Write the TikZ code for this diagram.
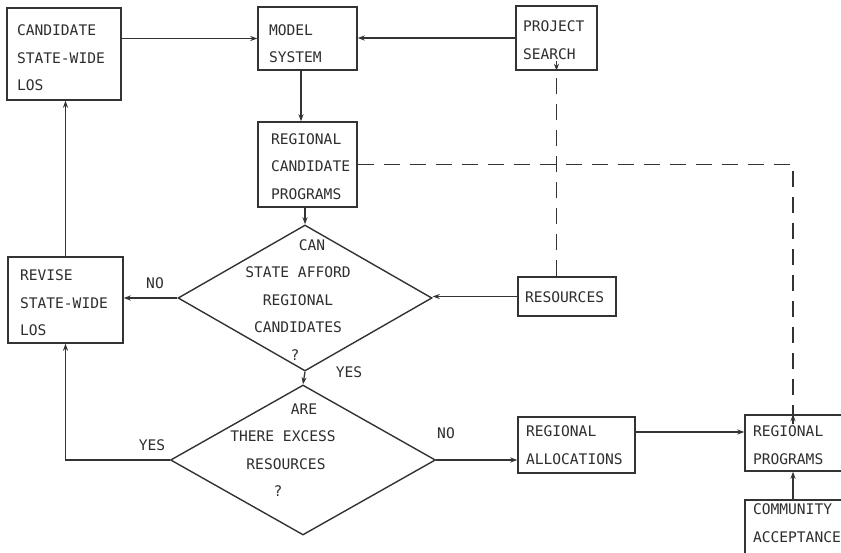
\documentclass[tikz,border=0pt]{standalone}
\usepackage{fontspec}
\setmonofont{DejaVu Sans Mono}
\usetikzlibrary{shapes.geometric,arrows.meta,calc}
\newcommand{\dn}[1]{\rule{0pt}{#1}}
\newcommand{\upx}[1]{\rule[-#1]{0pt}{1pt}}
\begin{document}
\begin{tikzpicture}[x=1pt,y=-1pt,
  every node/.style={font=\ttfamily\fontsize{14.6}{27.5}\selectfont, text=black!82},
  box/.style={draw=black!80, line width=1.4pt, rectangle, inner ysep=0pt, align=left},
  dia/.style={draw=black!80, line width=1.4pt, diamond, inner sep=0pt},
  lbl/.style={inner sep=0pt},
  conn/.style={draw=black!80, line width=1.3pt, -{Stealth[length=7pt,width=5pt]}},
  dconn/.style={draw=black!80, line width=1.3pt, dash pattern=on 16pt off 10pt},
]
\useasboundingbox (0,0) rectangle (841,553);
\clip (0,0) rectangle (841,553);
\fill[white] (0,0) rectangle (841,553);

% boxes
\node[box, minimum width=114pt, minimum height=92pt, text width=94pt, inner xsep=10pt] (cand) at (64,54) {\dn{19pt}CANDIDATE\\STATE-WIDE\\LOS};
\node[box, minimum width=99pt, minimum height=63pt, text width=77pt, inner xsep=11pt] (model) at (307.5,38.5) {\dn{21pt}MODEL\\SYSTEM};
\node[box, minimum width=99pt, minimum height=85pt, text width=73pt, inner xsep=13pt] (regcand) at (307.5,164.5) {\dn{15pt}REGIONAL\\CANDIDATE\\PROGRAMS};
\node[box, minimum width=81pt, minimum height=64pt, text width=67pt, inner xsep=7pt] (proj) at (556.5,38) {\dn{15pt}PROJECT\\SEARCH};
\node[box, minimum width=115pt, minimum height=86pt, text width=91pt, inner xsep=12pt] (rev) at (65.5,300) {\dn{17pt}REVISE\\STATE-WIDE\\LOS};
\node[box, minimum width=98pt, minimum height=39pt, text width=84pt, inner xsep=7pt] (res) at (567,296.5) {\dn{13pt}RESOURCES};
\node[box, minimum width=117pt, minimum height=56pt, text width=101pt, inner xsep=8pt] (alloc) at (576.5,445) {REGIONAL\\ALLOCATIONS};
\node[box, minimum width=105pt, minimum height=56pt, text width=89pt, inner xsep=8pt] (prog) at (797.5,443) {\dn{15pt}REGIONAL\\PROGRAMS};
\node[box, minimum width=105pt, minimum height=62pt, text width=89pt, inner xsep=8pt] (comm) at (797.5,531) {COMMUNITY\\ACCEPTANCE\upx{16pt}};

% diamonds
\node[dia, minimum width=254pt, minimum height=146pt] (d1) at (305,298) {};
\node[lbl, align=center] (d1t) at (298,300) {\hspace*{28pt}CAN\\STATE AFFORD\\REGIONAL\\CANDIDATES\\\hspace*{-6pt}?};
\node[dia, minimum width=265pt, minimum height=150pt] (d2) at (303,460) {};
\node[lbl, align=center] (d2t) at (283,450) {\hspace*{42pt}ARE\\THERE EXCESS\\\hspace*{6pt}RESOURCES\\\hspace*{-10pt}?};

% labels
\node[lbl] (no1) at (155,283) {NO};
\node[lbl] (yes1) at (349,372) {YES};
\node[lbl] (yes2) at (152,445) {YES};
\node[lbl] (no2) at (446,433) {NO};

\coordinate (vx) at (793,0);

% connectors
\draw[conn] (model.west -| cand.east) -- (model.west);
\draw[conn] (proj.west) -- (proj.west -| model.east);
\draw[conn] ([xshift=-6.5pt]model.south) -- ([xshift=-6.5pt]regcand.north);
\draw[conn] (d1.north |- regcand.south) -- (d1.north);
\draw[conn] (res.west) -- (res.west -| d1.east);
\draw[conn] (d1.west) -- (d1.west -| rev.east);
\draw[conn] (rev.north) -- (rev.north |- cand.south);
\draw[conn] (d2.west) -| (rev.south);
\draw[conn] (d1.south) -- (d2.north);
\draw[conn] (d2.east) -- (d2.east -| alloc.west);
\draw[conn] ([yshift=13pt]alloc.east) -- ([yshift=13pt]alloc.east -| prog.west);
\draw[conn] (comm.north -| vx) -- (prog.south -| vx);

% dashed connectors
\draw[dconn] (regcand.east) -- (regcand.east -| vx) -- ([yshift=-9pt]prog.north -| vx);
\draw[conn] ([yshift=-10pt]prog.north -| vx) -- (prog.north -| vx);
\draw[dconn] (proj.south |- res.north) -- ([yshift=9pt]proj.south);
\draw[conn] ([yshift=10pt]proj.south) -- (proj.south);
\end{tikzpicture}
\end{document}
